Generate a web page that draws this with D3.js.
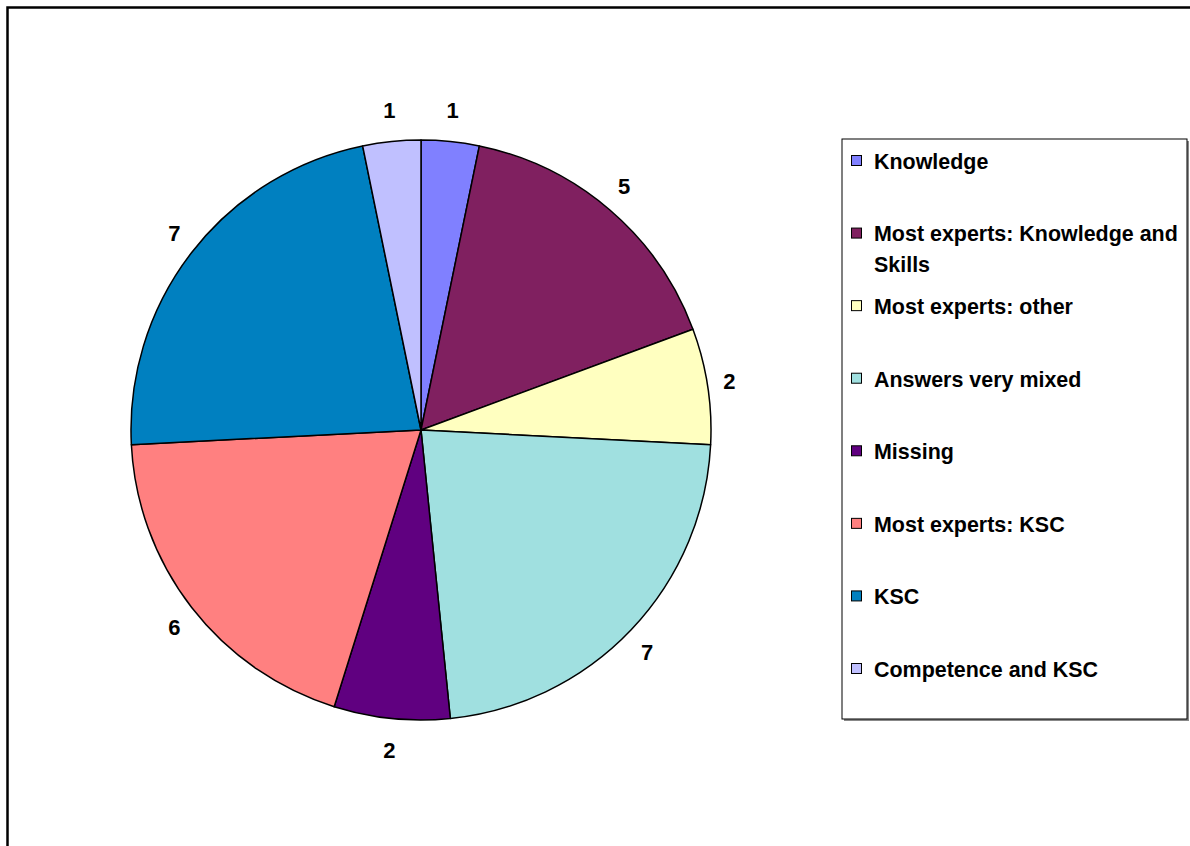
<!DOCTYPE html>
<html>
<head>
<meta charset="utf-8">
<script src="https://cdn.jsdelivr.net/npm/d3@7"></script>
<style>
  body { margin: 0; background: #fff; }
  text { font-family: "Liberation Sans", Arial, sans-serif; font-weight: bold; fill: #000; }
</style>
</head>
<body>
<div id="chart"></div>
<script>
// categories and values, in drawing order (clockwise from 12 o'clock)
var categories = ["Knowledge", "Most experts: Knowledge and Skills", "Most experts: other",
  "Answers very mixed", "Missing", "Most experts: KSC", "KSC", "Competence and KSC"];
var values = [1, 5, 2, 7, 2, 6, 7, 1];
var colors = ["#8080FF", "#802060", "#FFFFC0", "#A0E0E0", "#600080", "#FF8080", "#0080C0", "#C0C0FF"];
// legend lines (wrapped like the original)
var legendLines = [["Knowledge"], ["Most experts: Knowledge and", "Skills"], ["Most experts: other"],
  ["Answers very mixed"], ["Missing"], ["Most experts: KSC"], ["KSC"], ["Competence and KSC"]];

var width = 1190, height = 846;

const svg = d3.select("#chart")
  .append("svg")
  .attr("width", width)
  .attr("height", height);

// outer chart frame (runs off the right and bottom of the window)
svg.append("rect")
  .attr("x", 7.5).attr("y", 7.5)
  .attr("width", 1200).attr("height", 900)
  .attr("fill", "none")
  .attr("stroke", "#000")
  .attr("stroke-width", 2.5);

var cx = 421, cy = 430, radius = 290;

var pie = d3.pie().sort(null).value(d => d.value);
var data = categories.map((c, i) => ({name: c, value: values[i], color: colors[i]}));
var arcs = pie(data);

var arc = d3.arc().innerRadius(0).outerRadius(radius);

// labels sit a little further out above/below than at the sides
function labelPos(d) {
  var a = (d.startAngle + d.endAngle) / 2;
  return [312 * Math.sin(a), -322 * Math.cos(a)];
}

const g = svg.append("g").attr("transform", `translate(${cx},${cy})`);

g.selectAll("path")
  .data(arcs)
  .join("path")
  .attr("d", arc)
  .attr("fill", d => d.data.color)
  .attr("stroke", "#000")
  .attr("stroke-width", 1.5)
  .attr("stroke-linejoin", "round");

g.selectAll("text.lbl")
  .data(arcs)
  .join("text")
  .attr("class", "lbl")
  .attr("transform", d => `translate(${labelPos(d)})`)
  .attr("text-anchor", "middle")
  .attr("dy", "0.36em")
  .style("font-size", "22px")
  .text(d => d.data.value);

// legend
var legX = 842, legY = 139, legW = 345, legH = 580;
svg.append("rect")
  .attr("x", legX + 2).attr("y", legY + 2)
  .attr("width", legW).attr("height", legH)
  .attr("fill", "#888");
svg.append("rect")
  .attr("x", legX).attr("y", legY)
  .attr("width", legW).attr("height", legH)
  .attr("fill", "#fff")
  .attr("stroke", "#000")
  .attr("stroke-width", 1);

var rowY = d3.scaleLinear().domain([0, 7]).range([161, 669]);

const leg = svg.append("g");
var items = leg.selectAll("g")
  .data(data)
  .join("g")
  .attr("transform", (d, i) => `translate(0,${rowY(i)})`);

items.append("rect")
  .attr("x", 851.5).attr("y", -5.5)
  .attr("width", 10).attr("height", 10)
  .attr("fill", d => d.color)
  .attr("stroke", "#000")
  .attr("stroke-width", 1);

items.append("text")
  .attr("transform", "translate(874,0) scale(0.975,1)")
  .style("font-size", "22px")
  .selectAll("tspan")
  .data((d, i) => legendLines[i])
  .join("tspan")
  .attr("x", 0)
  .attr("dy", (d, j) => j === 0 ? "0.36em" : "31px")
  .text(d => d);
</script>
</body>
</html>
